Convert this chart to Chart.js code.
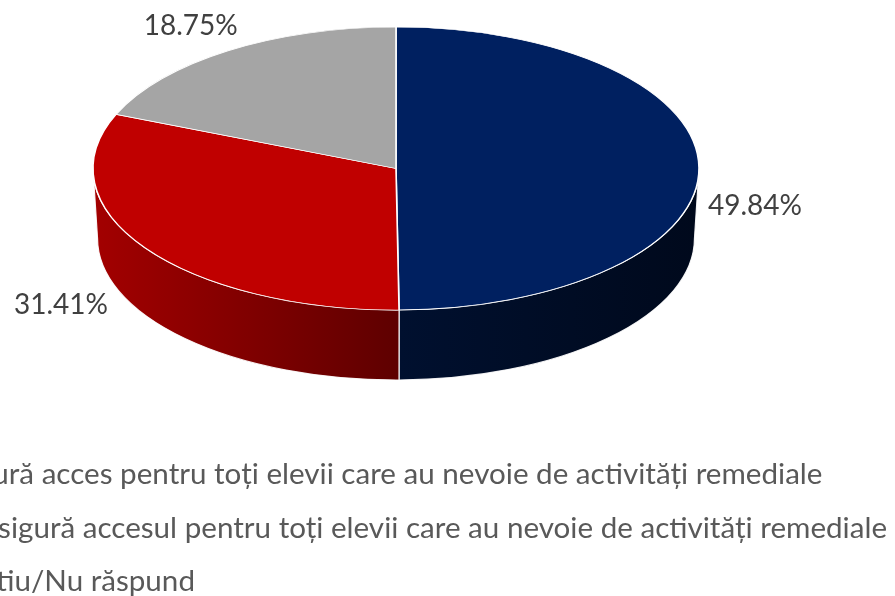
<!DOCTYPE html>
<html>
<head>
<meta charset="utf-8">
<script src="https://cdn.jsdelivr.net/npm/chart.js@4.4.0/dist/chart.umd.min.js"></script>
<style>
  html, body { margin: 0; padding: 0; background: #fff; overflow: hidden; }
  #wrap { position: relative; width: 895px; height: 596px; }
  #chart-pie { position: absolute; left: 0; top: 0; }
  #legend { position: absolute; left: -88px; top: 446px; font-family: Lato, 'Open Sans', sans-serif; font-size: 29.6px; color: #595959; }
  .legend-item { display: flex; align-items: center; height: 53.5px; line-height: 53.5px; white-space: nowrap; }
  .legend-box { width: 15px; height: 15px; margin-right: 10px; flex: none; }
</style>
</head>
<body>
<div id="wrap">
  <canvas id="chart-pie" width="895" height="596"></canvas>
  <div id="legend"></div>
</div>
<script>
// ─── Data ──────────────────────────────────────────────────────────────────
const CATEGORIES = [
  'Asigură acces pentru toți elevii care au nevoie de activități remediale',
  'Nu asigură accesul pentru toți elevii care au nevoie de activități remediale',
  'Nu știu/Nu răspund',
];
const VALUES = [49.84, 31.41, 18.75];

// ─── Style ─────────────────────────────────────────────────────────────────
const TOP_COLORS = ['#002060', '#C00000', '#A5A5A5'];
const SIDE_COLORS = [['#00102f', '#00091c'], ['#a30000', '#5e0000'], ['#7d7d7d', '#555555']];
const TILT = 0.467;      // vertical squash of the pie disc
const DEPTH = 70;        // thickness of the 3d wall
const LABEL_NUDGE = [[56, 38], [-84, 57], [-37, -25]];

// ─── 3D pie plugin ─────────────────────────────────────────────────────────
const pie3d = {
  id: 'pie3d',
  beforeDatasetsDraw(chart) {
    const ctx = chart.ctx;
    const arcs = chart.getDatasetMeta(0).data;
    const { x, y } = arcs[0];
    arcs.forEach((arc, i) => {
      const r = arc.outerRadius;
      const a = Math.max(arc.startAngle, 0);
      const b = Math.min(arc.endAngle, Math.PI);
      if (b <= a) return;
      const ry = r * TILT;
      const xl = x + r * Math.min(Math.cos(a), Math.cos(b));
      const xr = x + r * Math.max(Math.cos(a), Math.cos(b));
      const grad = ctx.createLinearGradient(xl, 0, xr, 0);
      grad.addColorStop(0, SIDE_COLORS[i][0]);
      grad.addColorStop(1, SIDE_COLORS[i][1]);
      ctx.save();
      ctx.beginPath();
      ctx.ellipse(x, y, r, ry, 0, a, b);
      ctx.ellipse(x, y + DEPTH, r * 0.985, ry, 0, b, a, true);
      ctx.closePath();
      ctx.fillStyle = grad;
      ctx.fill();
      ctx.strokeStyle = 'rgba(255,255,255,0.9)';
      ctx.lineWidth = 1.2;
      ctx.stroke();
      ctx.restore();
    });
    // squash the top face
    ctx.save();
    ctx.translate(x, y);
    ctx.scale(1, TILT);
    ctx.translate(-x, -y);
  },
  afterDatasetsDraw(chart) {
    const ctx = chart.ctx;
    ctx.restore();
    const arcs = chart.getDatasetMeta(0).data;
    ctx.save();
    ctx.font = '28px Lato, "Open Sans", sans-serif';
    ctx.fillStyle = '#404040';
    ctx.textAlign = 'center';
    ctx.textBaseline = 'middle';
    arcs.forEach((arc, i) => {
      const mid = (arc.startAngle + arc.endAngle) / 2;
      const px = arc.x + arc.outerRadius * Math.cos(mid) + LABEL_NUDGE[i][0];
      const py = arc.y + arc.outerRadius * TILT * Math.sin(mid) + LABEL_NUDGE[i][1];
      ctx.fillText(VALUES[i].toFixed(2) + '%', px, py);
    });
    ctx.restore();
  }
};

// ─── Chart ─────────────────────────────────────────────────────────────────
const ctx = document.getElementById('chart-pie').getContext('2d');
new Chart(ctx, {
  type: 'pie',
  data: {
    labels: CATEGORIES,
    datasets: [{
      data: VALUES,
      backgroundColor: TOP_COLORS,
      borderColor: '#ffffff',
      borderWidth: 1.6,
      radius: 303,
      clip: 1000,
    }]
  },
  options: {
    responsive: false,
    animation: false,
    layout: { padding: { left: 0, top: 0, right: 103, bottom: 259 } },
    plugins: { legend: { display: false }, tooltip: { enabled: false } },
    events: [],
  },
  plugins: [pie3d]
});

// ─── Legend ────────────────────────────────────────────────────────────────
document.getElementById('legend').innerHTML = CATEGORIES.map((c, i) =>
  `<div class="legend-item"><div class="legend-box" style="background:${TOP_COLORS[i]}"></div>${c}</div>`
).join('');
</script>
</body>
</html>
